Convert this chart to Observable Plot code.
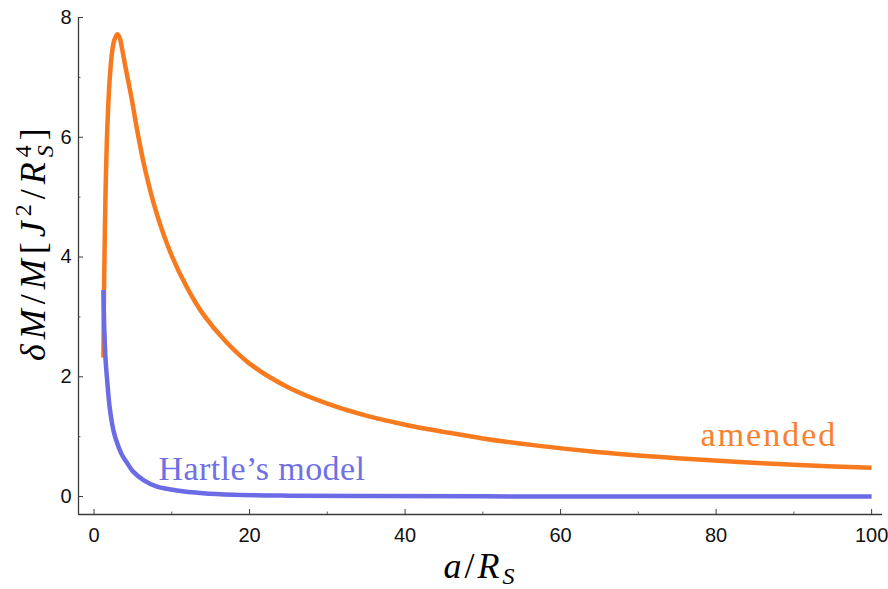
<!DOCTYPE html>
<html>
<head>
<meta charset="utf-8">
<script src="https://cdn.jsdelivr.net/npm/d3@7"></script>
<script src="https://cdn.jsdelivr.net/npm/@observablehq/plot@0.6"></script>
<style>
  html, body { margin: 0; padding: 0; background: #fff; }
  #chart svg { display: block; }
</style>
</head>
<body>
<div id="chart"></div>
<script>
// ---- data ----
const amendedX = [1.2, 1.25, 1.3, 1.4, 1.5, 1.65, 1.8, 2.0, 2.3, 2.6, 3.0, 3.3, 3.6, 4.0, 4.5, 4.9, 5.5, 6.5, 8, 10, 12, 14, 17, 20, 25, 30, 35, 40, 45, 50, 57, 65, 75, 83, 90, 100];
const amendedY = [2.32, 3.0, 3.6, 4.5, 5.2, 5.95, 6.45, 6.95, 7.4, 7.62, 7.72, 7.66, 7.48, 7.2, 6.87, 6.6, 6.15, 5.5, 4.75, 4.02, 3.48, 3.05, 2.58, 2.22, 1.82, 1.55, 1.35, 1.2, 1.08, 0.97, 0.85, 0.74, 0.64, 0.575, 0.53, 0.48];
const hartleX = [1.2, 1.3, 1.4, 1.5, 1.7, 2.0, 2.5, 3.0, 3.5, 4.3, 5, 6.4, 8, 10.7, 14, 18, 25, 35, 50, 70, 100];
const hartleY = [3.45, 2.85, 2.5, 2.25, 1.92, 1.5, 1.1, 0.88, 0.72, 0.55, 0.42, 0.27, 0.17, 0.1, 0.055, 0.03, 0.015, 0.007, 0.003, 0.001, 0.0005];
const xMajorTicks = [0, 20, 40, 60, 80, 100];
const xMinorTicks = [10, 30, 50, 70, 90];
const yMajorTicks = [0, 2, 4, 6, 8];
const yMinorTicks = [1, 3, 5, 7];
const seriesNames = ["amended", "Hartle\u2019s model"];
// annotation anchors (data units)
const labelX = [78.0, 8.3];
const labelY = [0.85, 0.28];

// ---- layout / style ----
const W = 888, H = 589, mt = 17, mb = 75, ml = 78, mr = 6;
const xDomain = [-2, 101.4], yDomain = [-0.3, 8];
const pxX = (xDomain[1] - xDomain[0]) / (W - ml - mr);
const pxY = (yDomain[1] - yDomain[0]) / (H - mt - mb);
const majorLen = 5, minorLen = 2.5;
const orange = "#f77a1f", blue = "#6b6be6";
const orangeText = "#f7812e", blueText = "#7070e4";
const axisColor = "#3a3a3a";
const serif = "'Liberation Serif', 'Times New Roman', serif";

const amended = amendedX.map((x, i) => ({x, y: amendedY[i]}));
const hartle = hartleX.map((x, i) => ({x, y: hartleY[i]}));
const labels = seriesNames.map((t, i) => ({t, x: labelX[i], y: labelY[i], c: i === 0 ? orangeText : blueText}));

const chart = Plot.plot({
  width: W, height: H,
  marginTop: mt, marginBottom: mb, marginLeft: ml, marginRight: mr,
  style: {background: "#fff", fontFamily: "'Liberation Sans', Arial, sans-serif", overflow: "visible"},
  x: {domain: xDomain, label: null},
  y: {domain: yDomain, label: null},
  marks: [
    // axis lines
    Plot.ruleY([yDomain[0]], {x1: xDomain[0], x2: xDomain[1], stroke: axisColor, strokeWidth: 1.3}),
    Plot.ruleX([xDomain[0]], {y1: yDomain[0], y2: yDomain[1], stroke: axisColor, strokeWidth: 1.3}),
    // inward ticks
    Plot.ruleX(xMajorTicks, {x: d => d, y1: yDomain[0], y2: yDomain[0] + majorLen * pxY, stroke: axisColor, strokeWidth: 1}),
    Plot.ruleX(xMinorTicks, {x: d => d, y1: yDomain[0], y2: yDomain[0] + minorLen * pxY, stroke: axisColor, strokeWidth: 0.8}),
    Plot.ruleY(yMajorTicks, {y: d => d, x1: xDomain[0], x2: xDomain[0] + majorLen * pxX, stroke: axisColor, strokeWidth: 1}),
    Plot.ruleY(yMinorTicks, {y: d => d, x1: xDomain[0], x2: xDomain[0] + minorLen * pxX, stroke: axisColor, strokeWidth: 0.8}),
    // tick labels
    Plot.axisX(xMajorTicks, {tickSize: 0, tickPadding: 13, fontSize: 20, fill: "#111", label: null, tickFormat: d3.format("d")}),
    Plot.axisY(yMajorTicks, {tickSize: 0, tickPadding: 7, fontSize: 20, fill: "#111", label: null, tickFormat: d3.format("d")}),
    // curves
    Plot.line(amended, {x: "x", y: "y", stroke: orange, strokeWidth: 4.5, curve: "catmull-rom", strokeLinecap: "butt"}),
    Plot.line(hartle, {x: "x", y: "y", stroke: blue, strokeWidth: 4.5, curve: "catmull-rom", strokeLinecap: "butt"}),
    // series labels
    Plot.text(labels, {x: "x", y: "y", text: "t", fill: "c", textAnchor: "start", lineAnchor: "bottom",
      fontSize: 34, fontFamily: serif}),
    // axis titles
    Plot.text(["XTITLE"], {frameAnchor: "bottom", text: d => d, dy: 63, fontSize: 36, lineAnchor: "bottom",
      textAnchor: "middle", fontFamily: serif, fill: "#000"}),
    Plot.text(["YTITLE"], {frameAnchor: "left", text: d => d, dx: -45, dy: -24, rotate: -90, fontSize: 36,
      textAnchor: "middle", fontFamily: serif, fill: "#000"})
  ]
});

document.getElementById("chart").appendChild(chart);

// rich text (sub/superscripts) and spacing
const svg = d3.select(chart);
const byText = s => svg.selectAll("text").filter(function () { return this.textContent === s; });
byText("amended").style("letter-spacing", "2px");
byText("Hartle\u2019s model").style("letter-spacing", "0.4px");
byText("XTITLE").style("letter-spacing", "3px").html(
  '<tspan font-style="italic">a</tspan>/<tspan font-style="italic">R</tspan>' +
  '<tspan font-style="italic" font-size="24" dy="6">S</tspan>'
);
byText("YTITLE").style("letter-spacing", "5px").html(
  '<tspan font-style="italic">\u03B4M</tspan>/<tspan font-style="italic">M</tspan>[' +
  '<tspan font-style="italic">J</tspan><tspan font-size="24" dy="-14">2</tspan>' +
  '<tspan dy="14">/</tspan><tspan font-style="italic">R</tspan>' +
  '<tspan font-size="24" dy="-14">4</tspan><tspan font-size="24" font-style="italic" dx="-17" dy="22">S</tspan>' +
  '<tspan dy="-8">]</tspan>'
);
</script>
</body>
</html>
